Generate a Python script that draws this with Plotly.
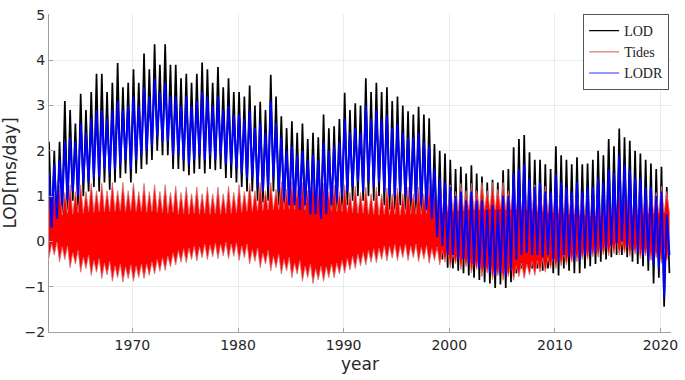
import numpy as np
import plotly.graph_objects as go

# half-year sampling points (peaks read at t, troughs at t+0.25)
years = np.round(np.arange(1962.1, 2020.61, 0.5), 2)

lod_hi = [2.2, 2.0, 2.2, 3.1, 2.9, 2.6, 3.26, 2.9, 3.3, 3.7,
          3.7, 3.3, 3.5, 3.94, 3.4, 3.5, 3.8, 3.5, 4.15, 3.8,
          4.35, 3.9, 4.35, 3.9, 3.9, 3.6, 3.7, 3.5, 3.7, 3.95,
          3.8, 3.5, 3.85, 3.4, 3.6, 3.3, 3.3, 3.2, 3.44, 3.0,
          3.08, 2.9, 3.68, 3.2, 2.76, 2.5, 2.65, 2.4, 2.6, 2.26,
          2.4, 2.3, 2.8, 2.5, 2.54, 2.7, 3.28, 2.9, 3.05, 3.0,
          3.6, 3.3, 3.5, 3.3, 3.4, 3.1, 3.2, 3.0, 2.87, 2.8,
          2.97, 2.8, 2.72, 2.15, 2.0, 1.94, 1.8, 1.6, 1.65, 1.5,
          1.68, 1.5, 1.43, 1.3, 1.36, 1.3, 1.57, 1.6, 2.08, 2.26,
          2.35, 1.97, 1.8, 1.8, 1.7, 1.6, 2.1, 1.9, 1.8, 1.7,
          1.86, 1.7, 1.72, 1.8, 2.0, 1.9, 2.26, 2.1, 2.49, 2.3,
          2.22, 2.0, 1.94, 1.8, 1.72, 1.6, 1.65, 1.2]
lod_lo = [0.3, 0.2, 0.6, 0.7, 0.9, 0.7, 1.0, 1.1, 1.2, 1.1,
          1.3, 1.14, 1.3, 1.4, 1.5, 1.3, 1.5, 1.6, 1.7, 1.8,
          2.0, 1.9, 1.9, 1.6, 1.6, 1.55, 1.46, 1.5, 1.6, 1.5,
          1.6, 1.57, 1.6, 1.4, 1.4, 1.3, 1.2, 1.1, 1.1, 0.9,
          0.86, 0.9, 1.1, 0.8, 0.6, 0.5, 0.5, 0.4, 0.5, 0.3,
          0.3, 0.2, 0.3, 0.5, 0.6, 0.7, 0.8, 0.9, 1.0, 0.9,
          1.0, 0.9, 1.0, 0.8, 0.7, 0.7, 0.8, 0.7, 0.6, 0.6,
          0.5, 0.4, 0.2, -0.2, -0.4, -0.58, -0.6, -0.65, -0.7, -0.75,
          -0.8, -0.85, -0.9, -0.93, -1.03, -0.95, -1.03, -0.9, -0.7, -0.6,
          -0.55, -0.6, -0.6, -0.65, -0.6, -0.7, -0.75, -0.6, -0.65, -0.7,
          -0.7, -0.6, -0.55, -0.5, -0.45, -0.4, -0.35, -0.3, -0.3, -0.35,
          -0.45, -0.5, -0.55, -0.65, -0.93, -0.8, -1.44, -0.7]

# tides: spike tips (at t) and notches between spikes (at t+0.25)
tides_hi = [1.2, 1.05, 1.22, 1.08, 1.25, 1.1, 1.25, 1.1, 1.28, 1.12,
            1.28, 1.12, 1.3, 1.12, 1.3, 1.12, 1.28, 1.1, 1.28, 1.1,
            1.25, 1.1, 1.25, 1.08, 1.22, 1.08, 1.2, 1.05, 1.2, 1.05,
            1.2, 1.05, 1.2, 1.05, 1.22, 1.08, 1.25, 1.1, 1.28, 1.12,
            1.3, 1.12, 1.3, 1.15, 1.32, 1.15, 1.32, 1.15, 1.3, 1.12,
            1.3, 1.12, 1.28, 1.1, 1.25, 1.1, 1.25, 1.08, 1.22, 1.08,
            1.2, 1.05, 1.2, 1.05, 1.18, 1.05, 1.18, 1.05, 1.2, 1.05,
            1.2, 1.05, 1.22, 1.08, 1.25, 1.1, 1.25, 1.1, 1.28, 1.12,
            1.28, 1.12, 1.3, 1.12, 1.3, 1.15, 1.3, 1.12, 1.28, 1.12,
            1.28, 1.1, 1.25, 1.1, 1.22, 1.08, 1.2, 1.05, 1.2, 1.05,
            1.18, 1.05, 1.15, 1.02, 1.15, 1.02, 1.15, 1.02, 1.15, 1.02,
            1.18, 1.05, 1.2, 1.05, 1.2, 1.08, 1.22, 1.1]
tides_lo = [-0.36, -0.3, -0.45, -0.4, -0.58, -0.5, -0.68, -0.6, -0.75, -0.68,
            -0.82, -0.74, -0.88, -0.8, -0.9, -0.82, -0.88, -0.8, -0.82, -0.75,
            -0.72, -0.66, -0.64, -0.56, -0.52, -0.46, -0.47, -0.4, -0.43, -0.36,
            -0.4, -0.34, -0.38, -0.32, -0.38, -0.33, -0.42, -0.36, -0.5, -0.44,
            -0.58, -0.5, -0.65, -0.58, -0.72, -0.65, -0.8, -0.72, -0.88, -0.8,
            -0.93, -0.85, -0.88, -0.8, -0.8, -0.72, -0.7, -0.63, -0.6, -0.54,
            -0.52, -0.46, -0.47, -0.4, -0.43, -0.37, -0.42, -0.36, -0.42, -0.36,
            -0.45, -0.39, -0.48, -0.42, -0.52, -0.46, -0.58, -0.5, -0.62, -0.56,
            -0.7, -0.62, -0.78, -0.7, -0.84, -0.76, -0.86, -0.78, -0.86, -0.78,
            -0.82, -0.74, -0.75, -0.68, -0.68, -0.6, -0.6, -0.54, -0.52, -0.46,
            -0.45, -0.4, -0.4, -0.34, -0.35, -0.3, -0.32, -0.27, -0.3, -0.26,
            -0.33, -0.28, -0.38, -0.32, -0.42, -0.36, -0.48, -0.42]
tides_notch_hi = [0.55, 0.6, 0.58, 0.62, 0.6, 0.64, 0.62, 0.66, 0.64, 0.66,
                  0.65, 0.66, 0.66, 0.68, 0.66, 0.68, 0.66, 0.66, 0.64, 0.66,
                  0.64, 0.64, 0.62, 0.64, 0.6, 0.62, 0.6, 0.62, 0.6, 0.62,
                  0.6, 0.62, 0.6, 0.62, 0.62, 0.64, 0.64, 0.66, 0.66, 0.68,
                  0.68, 0.7, 0.7, 0.7, 0.7, 0.72, 0.7, 0.72, 0.7, 0.7,
                  0.7, 0.7, 0.68, 0.68, 0.66, 0.66, 0.64, 0.64, 0.62, 0.62,
                  0.6, 0.6, 0.58, 0.6, 0.58, 0.6, 0.58, 0.6, 0.6, 0.6,
                  0.6, 0.62, 0.62, 0.64, 0.64, 0.66, 0.66, 0.68, 0.68, 0.7,
                  0.7, 0.7, 0.7, 0.72, 0.7, 0.72, 0.7, 0.7, 0.7, 0.7,
                  0.68, 0.68, 0.66, 0.66, 0.64, 0.64, 0.62, 0.62, 0.6, 0.6,
                  0.58, 0.58, 0.56, 0.56, 0.55, 0.56, 0.55, 0.56, 0.56, 0.58,
                  0.58, 0.6, 0.6, 0.62, 0.62, 0.62, 0.64, 0.64]
tides_notch_lo = [-0.05, -0.02, -0.12, -0.1, -0.25, -0.2, -0.35, -0.3, -0.42, -0.38,
                  -0.48, -0.44, -0.54, -0.5, -0.56, -0.52, -0.54, -0.5, -0.5, -0.45,
                  -0.4, -0.36, -0.32, -0.26, -0.2, -0.16, -0.15, -0.1, -0.12, -0.06,
                  -0.08, -0.04, -0.06, -0.02, -0.06, -0.03, -0.1, -0.06, -0.18, -0.14,
                  -0.26, -0.2, -0.33, -0.28, -0.4, -0.35, -0.48, -0.42, -0.55, -0.5,
                  -0.6, -0.55, -0.56, -0.5, -0.48, -0.42, -0.38, -0.33, -0.28, -0.24,
                  -0.2, -0.16, -0.15, -0.1, -0.11, -0.07, -0.1, -0.06, -0.1, -0.06,
                  -0.13, -0.09, -0.16, -0.12, -0.2, -0.16, -0.26, -0.2, -0.3, -0.26,
                  -0.38, -0.32, -0.45, -0.4, -0.52, -0.46, -0.54, -0.48, -0.54, -0.48,
                  -0.5, -0.44, -0.43, -0.38, -0.36, -0.3, -0.28, -0.24, -0.2, -0.16,
                  -0.13, -0.1, -0.08, -0.04, -0.03, 0.0, 0.0, 0.03, 0.02, 0.04,
                  -0.01, 0.02, -0.06, -0.02, -0.1, -0.06, -0.16, -0.12]

lodr_hi = [1.5, 1.7, 1.8, 2.2, 2.3, 2.2, 2.6, 2.4, 2.7, 2.9,
           2.9, 2.7, 2.9, 3.1, 2.9, 3.0, 3.2, 3.0, 3.4, 3.2,
           3.6, 3.3, 3.5, 3.2, 3.2, 3.0, 3.2, 3.0, 3.1, 3.3,
           3.2, 3.0, 3.2, 2.9, 3.0, 2.8, 2.8, 2.7, 2.9, 2.5,
           2.6, 2.4, 3.1, 2.6, 2.3, 2.0, 2.1, 1.9, 2.0, 1.8,
           1.9, 1.8, 2.2, 2.0, 2.1, 2.2, 2.7, 2.4, 2.5, 2.4,
           3.0, 2.7, 2.9, 2.7, 2.8, 2.5, 2.6, 2.4, 2.3, 2.3,
           2.4, 2.2, 2.1, 1.6, 1.4, 1.3, 1.2, 1.0, 1.1, 0.9,
           1.1, 0.9, 0.9, 0.7, 0.8, 0.7, 1.0, 1.0, 1.5, 1.6,
           1.7, 1.4, 1.2, 1.3, 1.1, 1.1, 1.5, 1.3, 1.2, 1.1,
           1.3, 1.1, 1.2, 1.2, 1.4, 1.3, 1.6, 1.5, 1.9, 1.7,
           1.6, 1.4, 1.4, 1.2, 1.2, 1.0, 1.1, 0.6]
lodr_lo = [0.3, 0.5, 0.8, 0.9, 1.1, 1.0, 1.3, 1.3, 1.4, 1.4,
           1.6, 1.5, 1.6, 1.7, 1.8, 1.6, 1.8, 1.9, 2.0, 2.1,
           2.3, 2.2, 2.2, 1.9, 1.9, 1.8, 1.7, 1.8, 1.9, 1.8,
           1.9, 1.8, 1.9, 1.7, 1.7, 1.6, 1.5, 1.4, 1.4, 1.2,
           1.1, 1.2, 1.4, 1.1, 0.9, 0.8, 0.8, 0.7, 0.8, 0.6,
           0.6, 0.5, 0.6, 0.8, 0.9, 1.0, 1.1, 1.2, 1.3, 1.1,
           1.3, 1.2, 1.3, 1.1, 1.0, 1.0, 1.1, 1.0, 0.9, 0.9,
           0.8, 0.7, 0.5, 0.1, -0.1, -0.3, -0.3, -0.4, -0.4, -0.5,
           -0.5, -0.6, -0.6, -0.7, -0.75, -0.7, -0.75, -0.6, -0.4, -0.3,
           -0.25, -0.3, -0.3, -0.35, -0.3, -0.4, -0.45, -0.3, -0.35, -0.4,
           -0.4, -0.3, -0.3, -0.25, -0.2, -0.15, -0.1, -0.05, 0.0, -0.1,
           -0.2, -0.25, -0.3, -0.4, -0.5, -0.6, -1.23, -0.3]

x_ticks = [1970, 1980, 1990, 2000, 2010, 2020]
y_ticks = [-2, -1, 0, 1, 2, 3, 4, 5]

for arr in (lod_hi, lod_lo, tides_hi, tides_lo, tides_notch_hi, tides_notch_lo,
            lodr_hi, lodr_lo):
    assert len(arr) == len(years)


def zig(hi, lo):
    xs, ys = [], []
    for t, h, l in zip(years, hi, lo):
        xs += [t, t + 0.25]
        ys += [h, l]
    return xs, ys


def teeth(hi, nhi, lo, nlo):
    xs, ys = [], []
    for t, h, n in zip(years, hi, nhi):
        xs += [t, t + 0.25]
        ys += [h, n]
    for t, l, n in reversed(list(zip(years, lo, nlo))):
        xs += [t + 0.25, t]
        ys += [n, l]
    return xs, ys


fig = go.Figure()

# LOD
xs, ys = zig(lod_hi, lod_lo)
fig.add_trace(go.Scatter(x=xs, y=ys, mode="lines", name="LOD", showlegend=False,
                         line=dict(color="#000000", width=1.7)))

# Tides
xs, ys = teeth(tides_hi, tides_notch_hi, tides_lo, tides_notch_lo)
fig.add_trace(go.Scatter(x=xs, y=ys, mode="lines", name="Tides", showlegend=False,
                         fill="toself", fillcolor="#ff0000",
                         line=dict(color="#d87070", width=0.8)))

# LODR
xs, ys = zig(lodr_hi, lodr_lo)
fig.add_trace(go.Scatter(x=xs, y=ys, mode="lines", name="LODR", showlegend=False,
                         line=dict(color="#0000ff", width=2.0)))

# legend entries (thin sample lines, as in the reference)
for nm, col in (("LOD", "#000000"), ("Tides", "#e07878"), ("LODR", "#3030ff")):
    fig.add_trace(go.Scatter(x=[None], y=[None], mode="lines", name=nm,
                             line=dict(color=col, width=1.2)))

axis_common = dict(showgrid=True, gridcolor="#ebebeb", gridwidth=1,
                   showline=True, linecolor="#a0a0a0", linewidth=1,
                   ticks="inside", ticklen=4, tickcolor="#a0a0a0",
                   tickfont=dict(family="DejaVu Sans", size=14, color="#262626"),
                   ticklabeloverflow="allow",
                   zeroline=False, mirror=False)

fig.update_layout(
    width=685, height=380,
    margin=dict(l=46, r=11, t=7, b=48),
    paper_bgcolor="white", plot_bgcolor="white",
    xaxis=dict(range=[1962.1, 2021.0], tickvals=x_ticks,
               title=dict(text="year", font=dict(family="DejaVu Sans", size=17, color="#262626"),
                          standoff=6),
               **axis_common),
    yaxis=dict(range=[-2, 5.02], tickvals=y_ticks,
               title=dict(text="LOD[ms/day]", font=dict(family="DejaVu Sans", size=17, color="#262626"),
                          standoff=6),
               **axis_common),
    legend=dict(x=0.997, y=1.0, xanchor="right", yanchor="top",
                bgcolor="white", bordercolor="#555555", borderwidth=1,
                font=dict(family="Liberation Serif", size=14, color="#222222"),
                traceorder="normal", tracegroupgap=0, itemwidth=30),
    showlegend=True,
)

fig.write_html("out.html", config={"displayModeBar": False})

# remove the default page margin so the figure sits at the window's top-left corner
with open("out.html", "r", encoding="utf-8") as f:
    html = f.read()
html = html.replace("<head>", "<head><style>html,body{margin:0;padding:0;}</style>", 1)
with open("out.html", "w", encoding="utf-8") as f:
    f.write(html)
